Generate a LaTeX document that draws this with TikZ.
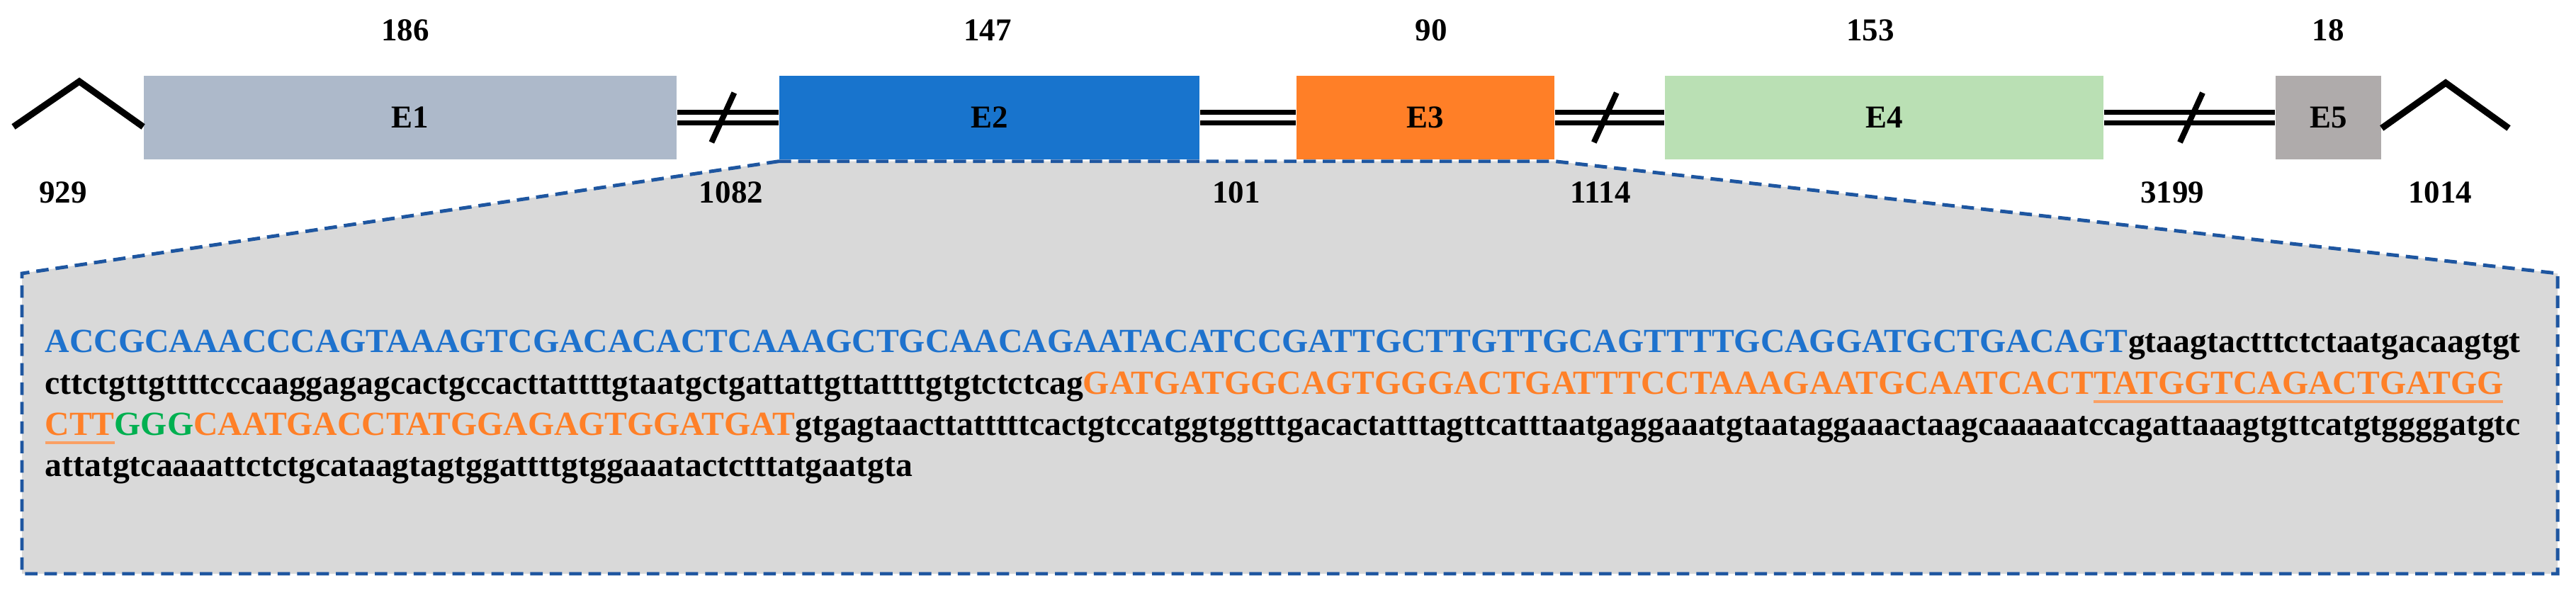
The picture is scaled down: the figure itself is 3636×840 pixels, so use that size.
\documentclass[tikz,border=0pt]{standalone}
\usepackage{fontspec}
\setmainfont{Liberation Serif}
\usepackage{graphicx}
\usetikzlibrary{calc}
\definecolor{ecA}{RGB}{173,185,202}
\definecolor{ecB}{RGB}{24,116,205}
\definecolor{ecC}{RGB}{255,127,39}
\definecolor{ecD}{RGB}{186,224,180}
\definecolor{ecE}{RGB}{175,171,171}
\definecolor{zgray}{RGB}{217,217,217}
\definecolor{zblue}{RGB}{30,86,160}
\definecolor{sblue}{RGB}{30,114,205}
\definecolor{sorange}{RGB}{255,128,40}
\definecolor{sgreen}{RGB}{0,176,80}
\definecolor{ulc}{RGB}{250,160,100}
\newcommand\sequl[1]{\sbox0{#1}\rlap{\color{ulc}\rule[-0.265em]{\wd0}{0.075em}}\usebox0}
\tikzset{
  exon/.style={rectangle, draw=none, inner sep=0pt, minimum height=1.18cm,
    font=\fontsize{12.8pt}{15pt}\selectfont\bfseries},
  num/.style={inner sep=0pt, font=\fontsize{12.8pt}{15pt}\selectfont\bfseries},
  intron/.style={draw=black, line width=2pt, double=white, double distance=2.5pt},
  slashmark/.style={draw=black, line width=2.3pt},
  caret/.style={draw=black, line width=2.6pt, line join=miter},
  zoombox/.style={fill=zgray, draw=zblue, line width=1.4pt, dash pattern=on 5pt off 2.8pt},
  seq/.style={inner sep=0pt, anchor=base west, font=\fontsize{13.57pt}{16pt}\selectfont\bfseries}
}
\begin{document}
\begin{tikzpicture}[x=0.01cm,y=-0.01cm]
\useasboundingbox (0,0) rectangle (3636,840);
% exon nodes (drawn later on top, defined here as phantom for anchors)
\node[exon, minimum width=7.52cm] (E1) at (579,166) {};
\node[exon, minimum width=5.93cm] (E2) at (1396.5,166) {};
\node[exon, minimum width=3.64cm] (E3) at (2012,166) {};
\node[exon, minimum width=6.19cm] (E4) at (2659.5,166) {};
\node[exon, minimum width=1.49cm] (E5) at (3286.5,166) {};
% zoom box
\coordinate (zTR) at (3610,386);
\coordinate (zBR) at (3610,810);
\coordinate (zBL) at (31,810);
\coordinate (zTL) at (31,386);
\draw[zoombox] ([yshift=-0.02cm]E2.south west) -- ([yshift=-0.02cm]E3.south east) -- (zTR) -- (zBR) -- (zBL) -- (zTL) -- cycle;
% exon boxes
\node[exon, fill=ecA, minimum width=7.52cm] at (E1) {E1};
\node[exon, fill=ecB, minimum width=5.93cm] at (E2) {E2};
\node[exon, fill=ecC, minimum width=3.64cm] at (E3) {E3};
\node[exon, fill=ecD, minimum width=6.19cm] at (E4) {E4};
\node[exon, fill=ecE, minimum width=1.49cm] at (E5) {E5};
% introns
\draw[intron] (E1.east) -- (E2.west);
\draw[intron] (E2.east) -- (E3.west);
\draw[intron] (E3.east) -- (E4.west);
\draw[intron] (E4.east) -- (E5.west);
% slashes
\coordinate (s1) at ($(E1.east)!0.45!(E2.west)$);
\coordinate (s3) at ($(E3.east)!0.46!(E4.west)$);
\coordinate (s4) at ($(E4.east)!0.51!(E5.west)$);
\foreach \s in {s1,s3,s4}
  \draw[slashmark] ([shift={(-0.16cm,-0.35cm)}]\s) -- ([shift={(0.16cm,0.35cm)}]\s);
% carets
\coordinate (cL1) at (19,179);
\coordinate (cL2) at (112,115);
\coordinate (cL3) at (E1.west |- cL1);
\draw[caret] (cL1) -- (cL2) -- (cL3);
\coordinate (cR1) at (E5.east |- 0,181);
\coordinate (cR2) at (3452,117);
\coordinate (cR3) at (3541,181);
\draw[caret] (cR1) -- (cR2) -- (cR3);
% exon lengths
\node[num] (t1) at (572,43) {186};
\node[num] (t2) at (1394,43) {147};
\node[num] (t3) at (2020,43) {90};
\node[num] (t4) at (2640,43) {153};
\node[num] (t5) at (3286,43) {18};
% intron lengths
\node[num] (b1) at (89,272) {929};
\node[num] (b2) at (1032,272) {1082};
\node[num] (b3) at (1745,272) {101};
\node[num] (b4) at (2259,272) {1114};
\node[num] (b5) at (3066,272) {3199};
\node[num] (b6) at (3444,272) {1014};
% sequence
\node[seq] (l1) at (63,498) {{\color{sblue}ACCGCAAACCCAGTAAAGTCGACACACTCAAAGCTGCAACAGAATACATCCGATTGCTTGTTGCAGTTTTGCAGGATGCTGACAGT}gtaagtactttctctaatgacaagtgt};
\node[seq] (l2) at (63,556) {cttctgttgttttcccaaggagagcactgccacttattttgtaatgctgattattgttattttgtgtctctcag{\color{sorange}GATGATGGCAGTGGGACTGATTTCCTAAAGAATGCAATCACT\sequl{TATGGTCAGACTGATGG}}};
\node[seq] (l3) at (63,614) {{\color{sorange}\sequl{CTT}}{\color{sgreen}GGG}{\color{sorange}CAATGACCTATGGAGAGTGGATGAT}gtgagtaacttatttttcactgtccatggtggtttgacactatttagttcatttaatgaggaaatgtaataggaaactaagcaaaaatccagattaaagtgttcatgtggggatgtc};
\node[seq] (l4) at (63,672) {attatgtcaaaattctctgcataagtagtggattttgtggaaatactctttatgaatgta};
\end{tikzpicture}
\end{document}
